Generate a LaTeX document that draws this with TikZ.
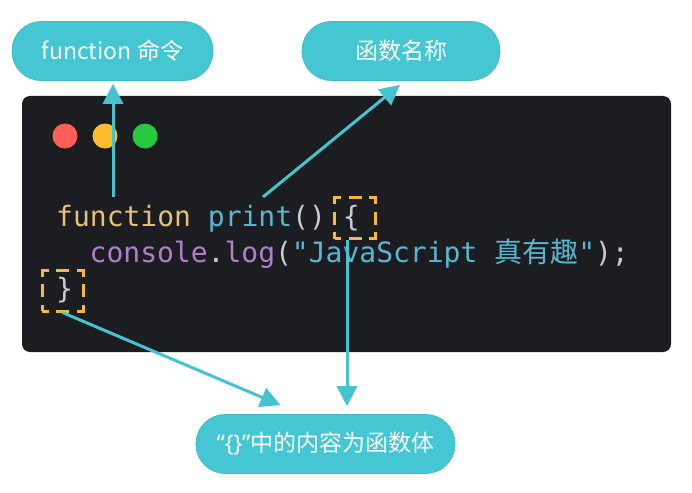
\documentclass[tikz,border=0pt]{standalone}
\usepackage{fontspec}
\setmonofont{DejaVu Sans Mono}
\newfontfamily\cjk{Noto Sans CJK SC}
\newfontfamily\latsans{Noto Sans}
\usetikzlibrary{arrows.meta}
\definecolor{pillc}{HTML}{45C7D3}
\definecolor{pillb}{HTML}{3CB9C5}
\definecolor{arrc}{HTML}{45C4D0}
\definecolor{panelc}{HTML}{1C1D20}
\definecolor{dashc}{HTML}{F6B93B}
\definecolor{kw}{HTML}{E5C07B}
\definecolor{fn}{HTML}{5AB6D0}
\definecolor{pn}{HTML}{C8CCD2}
\definecolor{pu}{HTML}{B07FCC}
\definecolor{st}{HTML}{5AB6D0}
\definecolor{redc}{HTML}{FE5F57}
\definecolor{yelc}{HTML}{FEBC2E}
\definecolor{grec}{HTML}{28C840}
\begin{document}
\begin{tikzpicture}[x=1pt,y=-1pt,
  pill/.style={fill=pillc, draw=pillb, line width=0.6pt, rounded corners=29pt,
    minimum height=59pt, text=white, font=\cjk\fontsize{23}{27}\selectfont, inner sep=0pt},
  codetext/.style={anchor=base west, inner sep=0pt, font=\ttfamily\fontsize{28}{34}\selectfont},
  arr/.style={draw=arrc, line width=3pt, -{Triangle[length=20pt,width=20pt]}},
  bracebox/.style={draw=dashc, line width=3pt, dash pattern=on 13pt off 7.5pt, dash phase=6.5pt,
    minimum width=41pt, minimum height=41pt, inner sep=0pt},
  light/.style={circle, minimum size=25pt, inner sep=0pt}]
\useasboundingbox (0,0) rectangle (692,492);
\fill[white] (0,0) rectangle (692,492);
% panel
\fill[panelc, rounded corners=8pt] (22,96) rectangle (671,352);
\node[light, fill=redc] (red) at (65,136) {};
\node[light, fill=yelc] (yel) at (105,136) {};
\node[light, fill=grec] (gre) at (145,136) {};
% code
\node[codetext] (l1) at (56,226) {\textcolor{kw}{function} \textcolor{fn}{print}\textcolor{pn}{() \{}};
\node[codetext] (l2) at (89.5,262) {\textcolor{pu}{console}\textcolor{pn}{.}\textcolor{pu}{log}\textcolor{pn}{(}\textcolor{st}{"JavaScript {\cjk 真有趣}"}\textcolor{pn}{);}};
\node[codetext] (l3) at (56,298) {\textcolor{pn}{\}}};
% dashed boxes
\node[bracebox] (b1) at (355,218) {};
\node[bracebox] (b2) at (62.5,290.5) {};
% pills
\node[pill, minimum width=201pt] (p1) at (112.5,51) {function 命令};
\node[pill, minimum width=198pt] (p2) at (401,51) {函数名称};
\node[pill, minimum width=259pt] (p3) at (325.5,444) {{\latsans “\{\}”}中的内容为函数体};
% connectors
\coordinate (s1) at (113,197);
\coordinate (s2) at (263,197);
\draw[arr] (s1) -- ([xshift=0.5pt,yshift=-3pt]p1.south);
\draw[arr] (s2) -- ([xshift=-1pt,yshift=-4pt]p2.south);
\draw[arr] ([xshift=-8pt]b1.south) -- ([xshift=21.5pt,yshift=8pt]p3.north);
\draw[arr] (b2.south) -- ([xshift=-45pt,yshift=9pt]p3.north);
\end{tikzpicture}
\end{document}
